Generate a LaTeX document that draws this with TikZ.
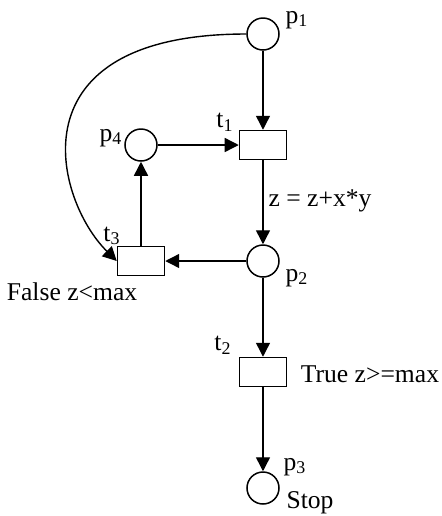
\documentclass[tikz,border=0pt]{standalone}
\usepackage{fontspec}
\setmainfont{Liberation Serif}
\usetikzlibrary{arrows.meta, positioning}

\begin{document}
\begin{tikzpicture}[
  x=0.5pt, y=-0.5pt,
  place/.style={circle, draw, line width=0.75pt, minimum size=16pt, inner sep=0pt},
  trans/.style={rectangle, draw, line width=0.75pt, minimum width=23.5pt,
                minimum height=14.5pt, inner sep=0pt},
  lbl/.style={inner sep=0pt, font=\fontsize{12.8}{15}\selectfont},
  arr/.style={-{Triangle[length=7pt, width=7pt]}, line width=0.7pt},
]
  \useasboundingbox (0,0) rectangle (441,516);

  %% ── Places and transitions ──────────────────────────────────────────────
  \node[place] (p1) at (263, 34)  {};
  \node[trans] (t1) at (263,145)  {};
  \node[place] (p4) at (141,145)  {};
  \node[place] (p2) at (263,261)  {};
  \node[trans] (t3) at (141,261)  {};
  \node[trans] (t2) at (263,372)  {};
  \node[place] (p3) at (263,488)  {};

  %% ── Labels ──────────────────────────────────────────────────────────────
  \node[lbl] (lp1)   at (297, 20) {p\textsubscript{1}};
  \node[lbl] (lt1)   at (225,122) {t\textsubscript{1}};
  \node[lbl] (lp4)   at (111,138) {p\textsubscript{4}};
  \node[lbl] (lt3)   at (112,236) {t\textsubscript{3}};
  \node[lbl] (lp2)   at (297,278) {p\textsubscript{2}};
  \node[lbl] (lt2)   at (223,345) {t\textsubscript{2}};
  \node[lbl] (lp3)   at (295,467) {p\textsubscript{3}};
  \node[lbl] (upd)   at (320,201) {z = z+x*y};
  \node[lbl] (false) at (72,292)  {False z<max};
  \node[lbl] (true)  at (370,374) {True z>=max};
  \node[lbl] (stop)  at (310,503) {Stop};

  %% ── Arcs ────────────────────────────────────────────────────────────────
  \draw[arr] (p1) -- (t1);
  \draw[arr] (p4) -- (t1);
  \draw[arr] (t1) -- (p2);
  \draw[arr] (p2) -- (t3);
  \draw[arr] (t3) -- (p4);
  \draw[arr] (p2) -- (t2);
  \draw[arr] (t2) -- (p3);
  \draw[arr] (p1.west) .. controls (10,34) and (55,200) .. (t3.west);

\end{tikzpicture}
\end{document}
